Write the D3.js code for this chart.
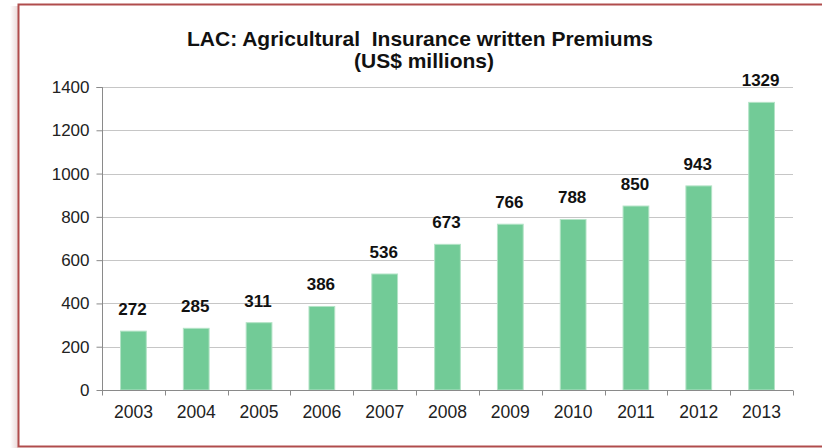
<!DOCTYPE html>
<html>
<head>
<meta charset="utf-8">
<script src="https://cdn.jsdelivr.net/npm/d3@7/dist/d3.min.js"></script>
<style>
  html, body { margin: 0; padding: 0; background: #ffffff; }
  svg { display: block; font-family: "Liberation Sans", Arial, sans-serif; }
</style>
</head>
<body>
<svg id="chart" width="822" height="448"></svg>
<script>
// Written agricultural insurance premiums, Latin America & Caribbean
const years = ["2003", "2004", "2005", "2006", "2007", "2008", "2009", "2010", "2011", "2012", "2013"];
const premiums = [272, 285, 311, 386, 536, 673, 766, 788, 850, 943, 1329];
const yTicks = [0, 200, 400, 600, 800, 1000, 1200, 1400];
const titleLines = ["LAC: Agricultural  Insurance written Premiums", "(US$ millions)"];

const svg = d3.select("#chart");
const W = 822, H = 448;

// Outer frame with a soft shadow on its left side
const defs = svg.append("defs");
const grad = defs.append("linearGradient").attr("id", "shadow").attr("x1", 0).attr("x2", 1);
grad.append("stop").attr("offset", 0).attr("stop-color", "#ffffff");
grad.append("stop").attr("offset", 1).attr("stop-color", "#ead8d8");
svg.append("rect").attr("x", 10).attr("y", 6).attr("width", 8).attr("height", H - 6)
  .attr("fill", "url(#shadow)");
svg.append("rect")
  .attr("x", 18.5).attr("y", 4.5).attr("width", W + 10).attr("height", 442)
  .attr("fill", "#ffffff").attr("stroke", "#b04c4c").attr("stroke-width", 2);

const margin = { left: 102, right: W - 793, top: 87, bottom: H - 390 };
const x = d3.scaleBand().domain(years).range([margin.left, W - margin.right]).paddingInner(0.59).paddingOuter(0.295);
const xb = d3.scaleBand().domain(years).range([margin.left, W - margin.right]);
const y = d3.scaleLinear().domain([0, 1400]).range([H - margin.bottom, margin.top]);

// Horizontal gridlines
svg.append("g").selectAll("line").data(yTicks.filter(d => d > 0)).join("line")
  .attr("x1", margin.left).attr("x2", W - margin.right)
  .attr("y1", d => Math.round(y(d)) + 0.5).attr("y2", d => Math.round(y(d)) + 0.5)
  .attr("stroke", "#c6c6c6").attr("stroke-width", 1);

// Bars
svg.append("g").selectAll("rect").data(years).join("rect")
  .attr("x", (d) => x(d))
  .attr("width", x.bandwidth())
  .attr("y", (d, i) => y(premiums[i]))
  .attr("height", (d, i) => y(0) - y(premiums[i]))
  .attr("fill", "#72cb97")
  .attr("stroke", "#b3e3c6").attr("stroke-width", 1);

// Value labels
svg.append("g").selectAll("text").data(years).join("text")
  .attr("x", d => x(d) + x.bandwidth() / 2 - 1)
  .attr("y", (d, i) => y(premiums[i]) - 16)
  .attr("text-anchor", "middle")
  .attr("font-size", 17).attr("font-weight", "bold").attr("fill", "#111111")
  .text((d, i) => premiums[i]);

// Y axis
const yAxis = svg.append("g").attr("transform", `translate(${margin.left + 0.5},0)`)
  .call(d3.axisLeft(y).tickValues(yTicks).tickSize(6).tickPadding(7).tickFormat(d3.format("d")));
yAxis.select(".domain").attr("stroke", "#8a8a8a").attr("d", `M-6,${y(1400) + 0.5}H0V${y(0) + 0.5}`);
yAxis.selectAll(".tick line").attr("stroke", "#8a8a8a");
yAxis.selectAll(".tick text").attr("font-size", 17).attr("fill", "#222222")
  .attr("font-family", "'Liberation Sans', Arial, sans-serif");

// X axis with ticks at category boundaries
const xAxis = svg.append("g").attr("transform", `translate(0,${Math.round(y(0)) + 0.5})`);
xAxis.append("line").attr("x1", margin.left).attr("x2", W - margin.right)
  .attr("stroke", "#8a8a8a");
const bounds = years.map(d => xb(d)).concat([W - margin.right]);
xAxis.selectAll("line.tk").data(bounds).join("line").attr("class", "tk")
  .attr("x1", d => Math.round(d) + 0.5).attr("x2", d => Math.round(d) + 0.5)
  .attr("y1", 0).attr("y2", 5).attr("stroke", "#8a8a8a");
xAxis.selectAll("text").data(years).join("text")
  .attr("x", d => xb(d) + xb.bandwidth() / 2)
  .attr("y", 27)
  .attr("text-anchor", "middle")
  .attr("font-size", 17.5).attr("fill", "#222222")
  .text(d => d);

// Title
svg.append("text").attr("x", 420).attr("y", 46).attr("text-anchor", "middle")
  .attr("font-size", 21).attr("font-weight", "bold").attr("fill", "#111111")
  .attr("xml:space", "preserve").style("white-space", "pre")
  .text(titleLines[0]);
svg.append("text").attr("x", 424).attr("y", 68).attr("text-anchor", "middle")
  .attr("font-size", 21).attr("font-weight", "bold").attr("fill", "#111111")
  .text(titleLines[1]);
</script>
</body>
</html>
